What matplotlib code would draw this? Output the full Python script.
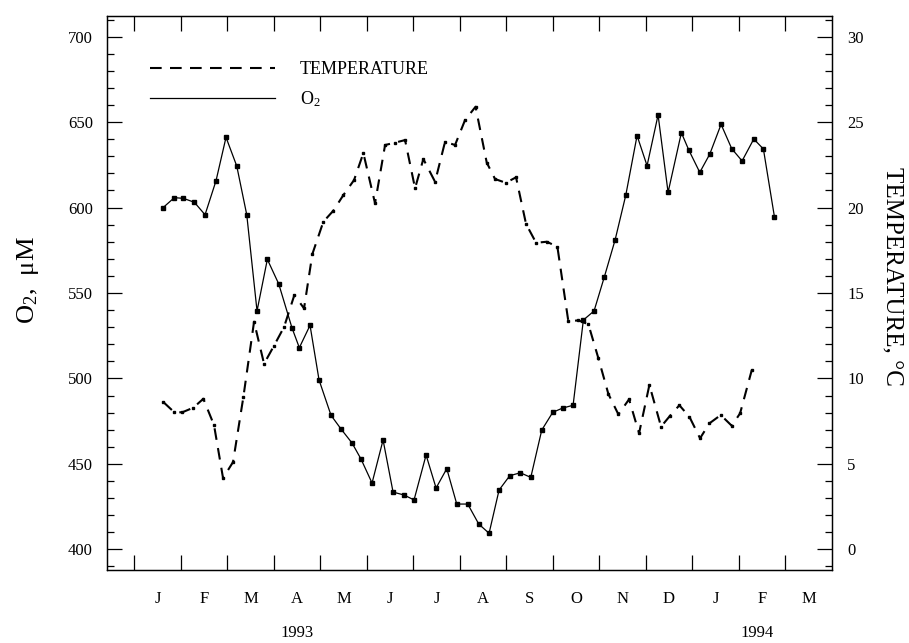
import matplotlib.pyplot as plt
import numpy as np
from matplotlib.lines import Line2D
from matplotlib.ticker import MultipleLocator, FixedLocator, NullFormatter

plt.rcParams['font.family'] = ['Liberation Serif', 'DejaVu Serif']
plt.rcParams['mathtext.fontset'] = 'custom'
plt.rcParams['mathtext.rm'] = 'Liberation Serif'
plt.rcParams['mathtext.it'] = 'Liberation Serif:italic'

# x in months since 1 Jan 1993
o2_month = [0.607, 0.860, 1.054, 1.291, 1.521, 1.757, 1.972, 2.203, 2.418, 2.639,
            2.861, 3.106, 3.392, 3.549, 3.779, 3.973, 4.231, 4.446, 4.683, 4.876,
            5.113, 5.350, 5.565, 5.801, 6.016, 6.275, 6.490, 6.720, 6.935, 7.171,
            7.408, 7.630, 7.845, 8.075, 8.303, 8.527, 8.763, 9.000, 9.215, 9.437,
            9.658, 9.888, 10.110, 10.340, 10.570, 10.813, 11.028, 11.265, 11.480, 11.766,
            11.925, 12.162, 12.377, 12.620, 12.850, 13.072, 13.323, 13.530, 13.767]
o2_um = [599.7, 605.8, 605.4, 603.1, 595.8, 615.7, 641.1, 624.3, 595.8, 539.5,
         569.7, 555.3, 529.5, 518.0, 531.1, 499.1, 478.4, 470.4, 462.2, 452.8,
         438.8, 464.0, 433.5, 431.8, 428.9, 455.2, 435.9, 447.2, 426.5, 426.5,
         414.8, 409.4, 434.7, 443.1, 444.8, 442.1, 469.8, 480.2, 482.7, 484.3,
         534.2, 539.5, 559.5, 581.0, 607.2, 642.1, 624.5, 654.2, 608.9, 643.8,
         633.7, 620.6, 631.3, 648.7, 634.4, 627.3, 640.1, 634.3, 594.7]

temp_month = [0.624, 0.860, 1.032, 1.269, 1.484, 1.714, 1.908, 2.123, 2.345, 2.575,
              2.790, 3.005, 3.220, 3.442, 3.650, 3.829, 4.065, 4.281, 4.496, 4.726,
              4.926, 5.177, 5.393, 5.608, 5.823, 6.038, 6.216, 6.468, 6.683, 6.898,
              7.113, 7.339, 7.580, 7.759, 7.989, 8.210, 8.425, 8.641, 8.871, 9.099,
              9.335, 9.551, 9.766, 9.981, 10.196, 10.411, 10.641, 10.856, 11.078, 11.329,
              11.523, 11.723, 11.938, 12.168, 12.368, 12.613, 12.850, 13.029, 13.280]
temp_c = [8.62, 8.02, 8.02, 8.29, 8.81, 7.27, 4.17, 5.11, 8.91, 13.32,
          10.86, 11.92, 13.01, 14.88, 14.10, 17.28, 19.17, 19.82, 20.73, 21.61,
          23.19, 20.25, 23.66, 23.80, 23.95, 21.13, 22.84, 21.51, 23.85, 23.66,
          25.12, 25.90, 22.63, 21.67, 21.45, 21.77, 19.04, 17.94, 18.00, 17.71,
          13.34, 13.40, 13.17, 11.18, 9.09, 7.90, 8.78, 6.79, 9.62, 7.18,
          7.82, 8.43, 7.76, 6.50, 7.37, 7.86, 7.23, 7.96, 10.49]

month_labels = ['J', 'F', 'M', 'A', 'M', 'J', 'J', 'A', 'S', 'O', 'N', 'D', 'J', 'F', 'M']
years = ['1993', '1994']
year_pos = [3.5, 13.4]

fig = plt.figure(figsize=(9.09, 6.43), dpi=100)
ax = fig.add_axes([0.1174, 0.1135, 0.7976, 0.8616])
ax2 = ax.twinx()

ax.plot(o2_month, o2_um, color='black', lw=0.9, marker='s', ms=2.5)
ax2.plot(temp_month, temp_c, color='black', lw=1.5, dashes=(5.6, 4),
         marker='s', ms=1.8)

ax.set_xlim(-0.594, 15)
ax.set_ylim(387.9, 712.1)
ax2.set_ylim(-1.21, 31.21)

# month boundaries as ticks, month names centred between them
ax.xaxis.set_major_locator(FixedLocator(range(0, 15)))
ax.xaxis.set_major_formatter(NullFormatter())
ax.xaxis.set_minor_locator(FixedLocator(np.arange(15) + 0.5))
ax.set_xticklabels(month_labels, minor=True)
ax.tick_params(axis='x', which='major', direction='in', length=11, width=0.9,
               top=True, bottom=True)
ax.tick_params(axis='x', which='minor', length=0, pad=15, labelsize=12)

ax.yaxis.set_major_locator(MultipleLocator(50))
ax.yaxis.set_minor_locator(MultipleLocator(10))
ax.tick_params(axis='y', which='major', direction='in', length=11, width=0.9,
               pad=10, labelsize=12)
ax.tick_params(axis='y', which='minor', direction='in', length=5, width=0.9)

ax2.yaxis.set_major_locator(MultipleLocator(5))
ax2.yaxis.set_minor_locator(MultipleLocator(1))
ax2.tick_params(axis='y', which='major', direction='in', length=11, width=0.9,
                pad=11, labelsize=12)
ax2.tick_params(axis='y', which='minor', direction='in', length=5, width=0.9)

for a in (ax, ax2):
    for s in a.spines.values():
        s.set_linewidth(0.9)

for lbl, xp in zip(years, year_pos):
    ax.text(xp, -0.114, lbl, transform=ax.get_xaxis_transform(),
            ha='center', va='center', fontsize=12)

fig.text(28 / 909, 1 - 280 / 643, 'O$_2$,  μM', rotation=90,
         ha='center', va='center', fontsize=19)
fig.text(893 / 909, 1 - 276 / 643, 'TEMPERATURE, °C', rotation=270,
         ha='center', va='center', fontsize=18)

handles = [Line2D([], [], color='black', lw=1.5, dashes=(5.6, 4)),
           Line2D([], [], color='black', lw=0.9)]
ax2.legend(handles, ['TEMPERATURE', 'O$_2$'], loc='upper left',
           bbox_to_anchor=(0.0597, 0.918), frameon=False, fontsize=13,
           handlelength=6.9, handletextpad=1.4, labelspacing=0.6,
           borderpad=0, borderaxespad=0)

fig.savefig('out.png', dpi=100)
